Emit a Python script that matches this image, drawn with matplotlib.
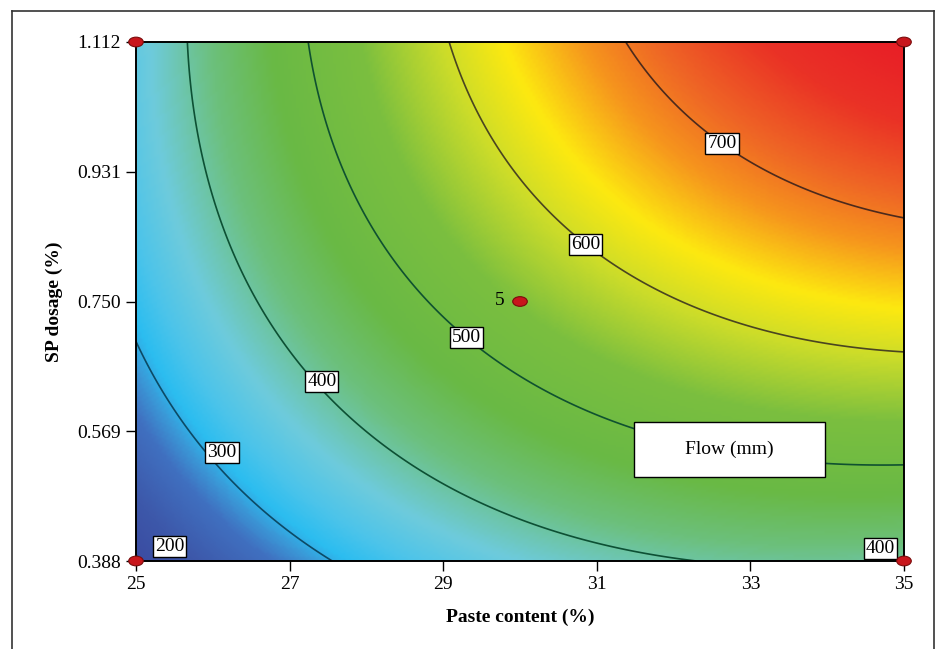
import numpy as np
import matplotlib
matplotlib.use("Agg")
import matplotlib.pyplot as plt
from matplotlib.colors import LinearSegmentedColormap
from matplotlib.patches import Ellipse, Rectangle
from matplotlib.lines import Line2D

plt.rcParams.update({"font.family": ["Liberation Serif", "DejaVu Serif"]})

# factor ranges and ticks
paste_range = [25.0, 35.0]
sp_range = [0.388, 1.112]
x_ticks = [25, 27, 29, 31, 33, 35]
y_ticks = [0.388, 0.569, 0.750, 0.931, 1.112]
y_ticklabels = ["0.388", "0.569", "0.750", "0.931", "1.112"]

# fitted quadratic model for flow (mm), coded units A = paste, B = SP
model_terms = ["1", "A", "B", "AB", "A^2", "B^2"]
model_coefs = [543.0, 163.5, 138.5, 60.0, -66.5, -38.0]

# contour levels and where the labels sit
levels = [200, 300, 400, 500, 600, 700]
line_colors = ["#0d4a5a", "#0c4a66", "#0d5034", "#0f5130", "#4a4520", "#4d2a1c"]
label_vals = [200, 300, 400, 500, 600, 700, 400]
label_x = [25.44, 26.12, 27.42, 29.30, 30.85, 32.63, 34.69]
label_y = [0.408, 0.539, 0.639, 0.700, 0.829, 0.971, 0.406]

# design points
design_x = [25, 35, 25, 35, 30]
design_y = [0.388, 0.388, 1.112, 1.112, 0.750]

# colour scale stops
cmap_vals = [185, 230, 270, 290, 305, 330, 365, 420, 470, 540, 595, 635, 680, 715, 760, 800]
cmap_cols = ["#3a489f", "#3d58aa", "#4070c0", "#3a9ad8", "#2bbdf0", "#4cc4ea", "#6ecbdc",
             "#6cc07c", "#69b945", "#7bbf3f", "#cbdc2a", "#fde910", "#f6951d", "#ef6725",
             "#ea3226", "#e81f26"]

vmin, vmax = cmap_vals[0], cmap_vals[-1]
cmap = LinearSegmentedColormap.from_list(
    "de", [((v - vmin) / (vmax - vmin), c) for v, c in zip(cmap_vals, cmap_cols)])

xs = np.linspace(paste_range[0], paste_range[1], 300)
ys = np.linspace(sp_range[0], sp_range[1], 240)
X, Y = np.meshgrid(xs, ys)
A = (X - 30.0) / 5.0
B = (Y - 0.750) / 0.362
terms = [np.ones_like(A), A, B, A * B, A**2, B**2]
Z = sum(c * t for c, t in zip(model_coefs, terms))

fig = plt.figure(figsize=(9.4, 6.49), dpi=100)
ax = fig.add_axes([136 / 940, 88 / 649, 768 / 940, 519 / 649])

ax.imshow(Z, extent=[paste_range[0], paste_range[1], sp_range[0], sp_range[1]],
          origin="lower", aspect="auto", cmap=cmap, vmin=vmin, vmax=vmax,
          interpolation="bilinear")
ax.contour(X, Y, Z, levels=levels, colors=line_colors, linewidths=1.2)

for v, lx, ly in zip(label_vals, label_x, label_y):
    ax.text(lx, ly, str(v), ha="center", va="center", fontsize=14, zorder=5,
            bbox=dict(boxstyle="square,pad=0.1", fc="white", ec="black", lw=1.0))

# legend-like title box
ax.text(32.72, 0.5435, "Flow (mm)", ha="center", va="center", fontsize=14, zorder=5)
ax.add_patch(Rectangle((31.48, 0.505), 2.49, 0.077, fc="white", ec="black", lw=1.0, zorder=4))

for dx, dy in zip(design_x, design_y):
    ax.add_patch(Ellipse((dx, dy), 0.19, 0.0135, fc="#c8161c", ec="#7a0c0c",
                         lw=0.8, clip_on=False, zorder=6))
ax.text(29.8, 0.752, "5", ha="right", va="center", fontsize=14, zorder=6)

ax.set_xlim(paste_range)
ax.set_ylim(sp_range)
ax.set_xticks(x_ticks)
ax.set_yticks(y_ticks)
ax.set_yticklabels(y_ticklabels)
ax.tick_params(direction="out", length=7, width=1.0, labelsize=14, pad=4)
for s in ax.spines.values():
    s.set_linewidth(1.4)
ax.set_xlabel("Paste content (%)", fontsize=14, fontweight="bold", labelpad=11)
ax.set_ylabel("SP dosage (%)", fontsize=14, fontweight="bold", labelpad=10)

# outer frame (open at the bottom)
fx0, fx1, fy1 = 12 / 940, 934 / 940, 1 - 11 / 649
for xd, yd in [([fx0, fx1], [fy1, fy1]), ([fx0, fx0], [0, fy1]), ([fx1, fx1], [0, fy1])]:
    fig.add_artist(Line2D(xd, yd, color="#333333", lw=1.2))

fig.savefig("out.png", dpi=100)
